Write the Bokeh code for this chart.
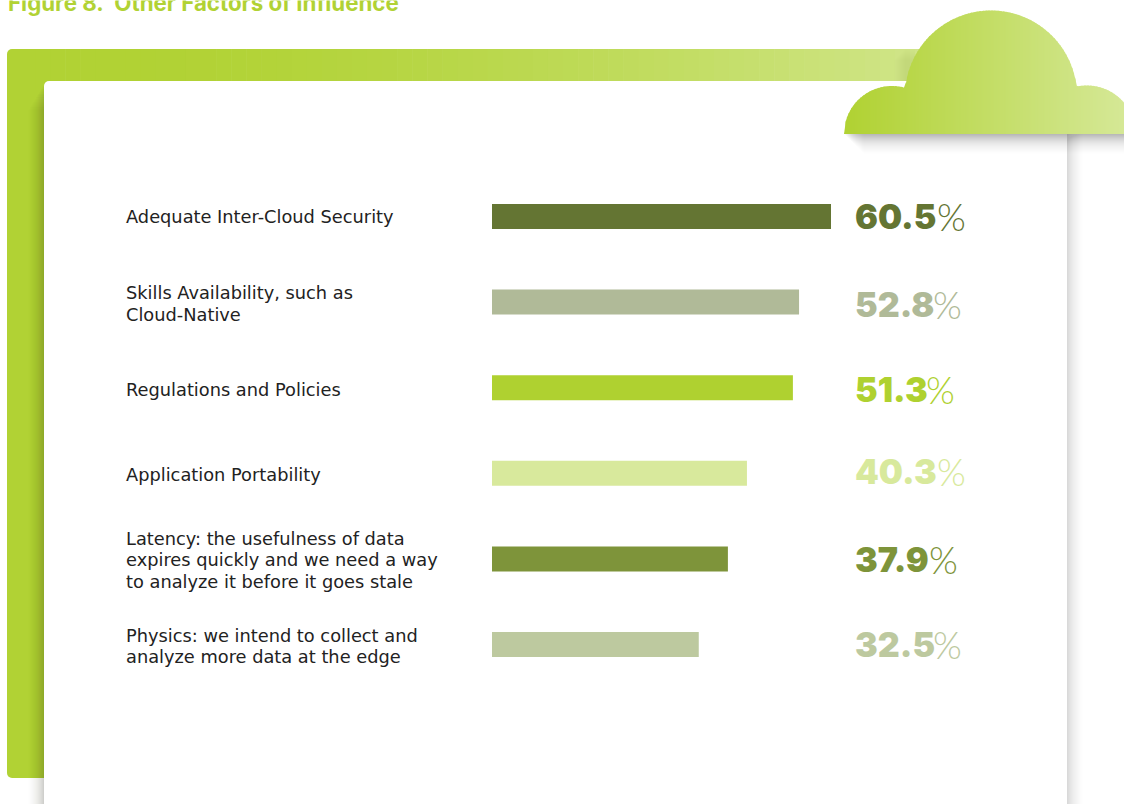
from bokeh.plotting import figure
from bokeh.models import Range1d, ColumnDataSource
from bokeh.core.properties import value
from bokeh.embed import file_html
from bokeh.resources import INLINE
import math

title_text = "Figure 8.\u00a0\u00a0Other Factors of Influence"
categories = [
    "Adequate Inter-Cloud Security",
    "Skills Availability, such as\nCloud-Native",
    "Regulations and Policies",
    "Application Portability",
    "Latency: the usefulness of data\nexpires quickly and we need a way\nto analyze it before it goes stale",
    "Physics: we intend to collect and\nanalyze more data at the edge",
]
printed_values = ["60.5", "52.8", "51.3", "40.3", "37.9", "32.5"]
# drawn bar lengths, in units of the first bar's 60.5
# (the original's bars are not strictly proportional to the printed figures)
bar_lengths = [60.5, 54.8, 53.7, 45.5, 42.1, 36.9]
bar_colors = ["#647533", "#b0ba98", "#afd130", "#d8e99c", "#7e943a", "#bdc99f"]

# layout
W, H = 1124, 804
SHIFT = 0.5
X0, PX_PER_UNIT = 492, 339 / 60.5
Y0, ROW = 216.5, 85.6
LABEL_DY = [0, 1.5, 1.5, 1.5, 1, 1.5]
NUM_DY = [0, 2, 2, -2, 1, 0]
PCT_X = [937, 933, 926, 937, 929, 933]
FONT = "DejaVu Sans"

p = figure(width=W, height=H, output_backend="svg", toolbar_location=None,
           x_range=Range1d((SHIFT - X0) / PX_PER_UNIT, (W + SHIFT - X0) / PX_PER_UNIT),
           y_range=Range1d((H + SHIFT - Y0) / ROW, (SHIFT - Y0) / ROW),
           x_axis_location=None, y_axis_location=None,
           min_border=0, outline_line_color=None, background_fill_color="white",
           styles={"position": "absolute", "left": "0", "top": "0"})
p.grid.visible = False
p.extra_x_ranges = {"px": Range1d(SHIFT, W + SHIFT)}
p.extra_y_ranges = {"px": Range1d(H + SHIFT, SHIFT)}
PX = dict(x_range_name="px", y_range_name="px")

def mix(a, b, t):
    t = max(0, min(1, t))
    return "#%02x%02x%02x" % tuple(round(a[i] + (b[i] - a[i]) * t) for i in range(3))

G0, G1 = (0xb1, 0xd2, 0x34), (0xd5, 0xe8, 0x96)

# left block of the green frame
p.quad(left=[7], right=[60], top=[49], bottom=[778], fill_color=mix(G0, G1, 0),
       line_color=None, border_radius=5, **PX)
# top band with gradient
n = 60
bw = (925 - 20) / n
xs0 = [20 + i * bw for i in range(n)]
xs1 = [x + bw + 0.6 for x in xs0]
p.quad(left=xs0, right=xs1, top=[49] * n, bottom=[90] * n,
       fill_color=[mix(G0, G1, 0.88 * ((x - 120) / 800) ** 1.6 if x > 120 else 0) for x in xs0],
       line_color=None, **PX)

# shadows of the card
for i in range(16):
    a = 0.022 * (1 - i / 16) ** 1.2 + 0.004
    p.quad(left=[44 - i - 1], right=[44], top=[86 + i * 1.6], bottom=[H], fill_color="#303020",
           fill_alpha=a, line_color=None, **PX)
    p.quad(left=[1067], right=[1067 + i + 1], top=[134], bottom=[H], fill_color="#303030",
           fill_alpha=a * 0.8, line_color=None, **PX)
# shadow of the dome on the band
for i in range(12):
    p.quad(left=[906 - i - 1], right=[915], top=[49 + i], bottom=[81], fill_color="#303020",
           fill_alpha=0.005, line_color=None, **PX)

# white card
p.quad(left=[44], right=[1067], top=[81], bottom=[H + 10], fill_color="white",
       line_color=None, border_radius=5, **PX)

# shadow under the cloud
for i in range(20):
    p.quad(left=[845 + i], right=[W + 2], top=[134], bottom=[134 + i + 1], fill_color="#303030",
           fill_alpha=0.028 * (1 - i / 20) + 0.002, line_color=None, **PX)

# cloud
def cloud_top(x):
    best = 134.0
    for cx, cy, r in ((892, 134, 48), (991, 96.7, 86.2), (1087, 134, 48.5)):
        if abs(x - cx) < r:
            best = min(best, cy - math.sqrt(r * r - (x - cx) ** 2))
    return best

step = 1.5
cxs, cys, ccs = [], [], []
x = 844.0
while x < W + 2:
    x2 = x + step
    cxs.append([x, x2 + 0.5, x2 + 0.5, x])
    cys.append([cloud_top(x), cloud_top(x2 + 0.5), 134, 134])
    ccs.append(mix(G0, G1, (x - 850) / 274))
    x = x2
p.patches(xs=cxs, ys=cys, fill_color=ccs, line_color=None, **PX)

# title
p.text(x=[8], y=[2], text=[title_text], text_font=value("Inter"), text_font_style="bold",
       text_font_size="22.3px", text_color="#b1d234", text_baseline="alphabetic", **PX)

# bars
rows = list(range(len(categories)))
src = ColumnDataSource(dict(y=rows, right=bar_lengths, color=bar_colors, cat=categories,
                            num=printed_values, pct=["%"] * 6, label_dy=LABEL_DY,
                            num_dy=NUM_DY, pct_x=PCT_X))
p.hbar(y="y", left=0, right="right", height=25 / ROW, fill_color="color", line_color=None, source=src)

# category labels
p.text(x=(126 - X0) / PX_PER_UNIT, y="y", text="cat", y_offset="label_dy", source=src,
       text_font=value(FONT), text_font_size="17.8px", text_color="#222222",
       text_baseline="middle", text_align="left", text_line_height=1.04)

# printed values
p.text(x=(855 - X0) / PX_PER_UNIT, y="y", text="num", y_offset="num_dy", source=src,
       text_font=value("Inter Black"), text_font_style="normal", text_font_size="34px",
       text_color="color", text_baseline="middle", text_align="left")
p.text(x="pct_x", y="y", text="pct", y_offset="num_dy", source=src, x_range_name="px",
       text_font=value("Lato Light"), text_font_size="37px",
       text_color="color", text_baseline="middle", text_align="left")

open("out.html", "w").write(file_html(p, INLINE))
